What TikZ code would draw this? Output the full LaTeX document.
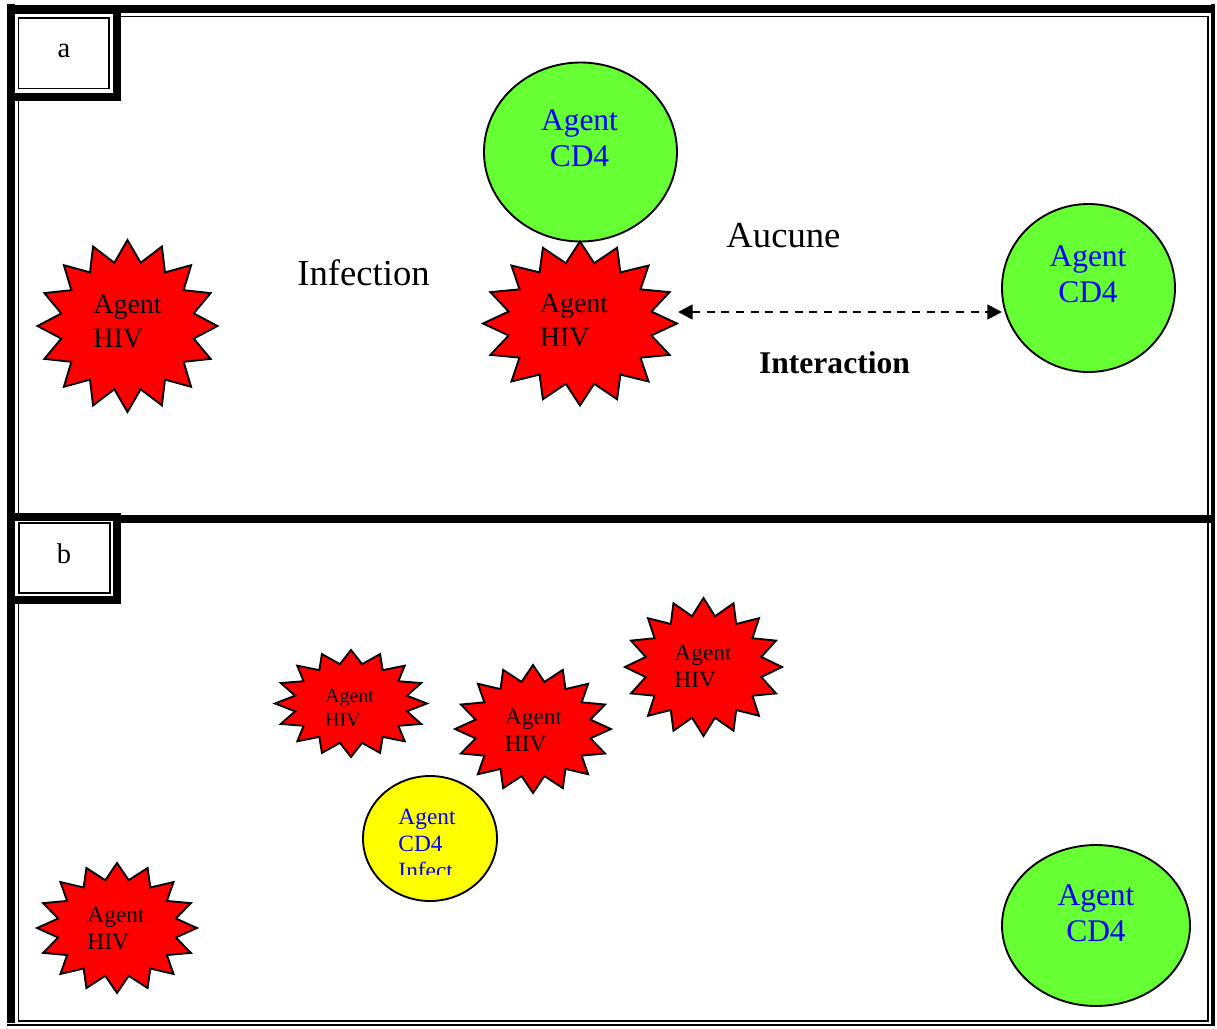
\documentclass[tikz,border=0pt]{standalone}
\usepackage{fontspec}
\setmainfont{Liberation Serif}
\usetikzlibrary{shapes.geometric,arrows.meta}
\definecolor{cdgreen}{HTML}{66FF33}
\definecolor{cdyellow}{HTML}{FFFF00}
\definecolor{hivred}{HTML}{FF0000}
\definecolor{cdblue}{HTML}{0000FF}
\newcommand\fsz[2]{\fontsize{#1}{#2}\selectfont}
% 16-point burst: centre (#1,#2), radii #3 and #4
\newcommand\hivburst[4]{%
  \draw[burst] plot[samples at={0,...,31}, variable=\k]
    ({#1+#3*(1-0.25*mod(\k,2))*cos(90+11.25*\k)},
     {#2+#4*(1-0.25*mod(\k,2))*sin(90+11.25*\k)}) -- cycle;}
\tikzset{
  frameheavy/.style={line width=6pt},
  framelight/.style={line width=1.1pt},
  tagbox/.style={draw, fill=white, line width=6pt, rectangle, inner sep=0, outer sep=0},
  burst/.style={fill=hivred, draw=black, line width=1.4pt, line join=miter},
  cell/.style={ellipse, draw=black, line width=1.4pt, inner sep=0, outer sep=0},
  cd4txt/.style={text=cdblue, align=center, inner sep=0},
  hivtxt/.style={text=black, align=left, inner sep=0},
  plain/.style={inner sep=0, anchor=base},
  interarrow/.style={{Triangle[length=11pt,width=11pt]}-{Triangle[length=11pt,width=11pt]},
                     line width=2pt, dash pattern=on 6pt off 5pt}
}
\begin{document}
\begin{tikzpicture}[x=0.75pt,y=-0.75pt]
\useasboundingbox (0,0) rectangle (1217,1028);
% outer frame of both panels
\draw[frameheavy] (7,8.5) -- (1215,8.5);
\draw[frameheavy] (7,518.5) -- (1215,518.5);
\draw[frameheavy] (11,4) -- (11,1023);
\draw[line width=3.4pt] (1213,4) -- (1213,1026);
\draw[framelight] (7,1025) -- (1215,1025);
\draw[framelight] (18.5,518) -- (18.5,16.5) -- (1208,16.5) -- (1208,518);
\draw[framelight] (18.5,522) -- (18.5,1021) -- (1208,1021) -- (1208,522);

% panel tags
\node[tagbox, minimum width=79.5pt, minimum height=65.25pt] (tagA) at (64,53) {};
\draw[framelight] ([shift={(7.5,8.5)}]tagA.north west) rectangle ([shift={(-8,-8)}]tagA.south east);
\node[plain, font=\fsz{21.4pt}{25pt}] (tagAtxt) at (64,57) {a};
\node[tagbox, minimum width=79.5pt, minimum height=61.9pt] (tagB) at (64,558.75) {};
\draw[framelight] ([shift={(8,5.5)}]tagB.north west) rectangle ([shift={(-7,-7)}]tagB.south east);
\node[plain, font=\fsz{21.4pt}{25pt}] (tagBtxt) at (64,563) {b};

% panel a
\node[cell, fill=cdgreen, minimum width=144.75pt, minimum height=134.25pt] (cdTop) at (580.5,152) {};
\node[cd4txt, font=\fsz{23.6pt}{27pt}] (cdTopTxt) at (579.5,138.5) {Agent\\CD4};
\hivburst{127.5}{326}{90}{86}
\node[hivtxt, font=\fsz{21pt}{25.5pt}] (hivLeft) at (127.5,321.8) {Agent\\HIV};
\hivburst{580}{323.5}{97}{82}
\node[hivtxt, font=\fsz{21pt}{25.5pt}] (hivMid) at (574,320.7) {Agent\\HIV};
\node[cell, fill=cdgreen, minimum width=129.75pt, minimum height=126pt] (cdRight) at (1088.5,288) {};
\node[cd4txt, font=\fsz{23.6pt}{27pt}] (cdRightTxt) at (1088,274.5) {Agent\\CD4};
\node[plain, font=\fsz{27.5pt}{32pt}] (infection) at (363.5,285) {Infection};
\node[plain, font=\fsz{27.5pt}{32pt}] (aucune) at (783.5,247) {Aucune};
\node[plain, font=\bfseries\fsz{23.7pt}{28pt}] (interaction) at (834.5,373) {Interaction};
\coordinate (tipL) at (678,312);
\coordinate (tipR) at (1002,312);
\draw[interarrow] (tipL) -- (tipR);

% panel b
\hivburst{351}{703.5}{76}{53.5}
\node[hivtxt, font=\fsz{15pt}{18.2pt}] (hivB1) at (349.5,708) {Agent\\HIV};
\hivburst{533}{729}{78}{64}
\node[hivtxt, font=\fsz{17.5pt}{20.3pt}] (hivB2) at (533.5,730) {Agent\\HIV};
\hivburst{703.5}{667}{78.5}{69}
\node[hivtxt, font=\fsz{17.5pt}{20.3pt}] (hivB3) at (703,666) {Agent\\HIV};
\hivburst{117}{928}{80}{65}
\node[hivtxt, font=\fsz{17.5pt}{20.3pt}] (hivB4) at (116,928.5) {Agent\\HIV};
\node[cell, fill=cdyellow, minimum width=100.5pt, minimum height=93.75pt] (cdInf) at (430,838.5) {};
\begin{scope}
  \clip (350,770) rectangle (510,874);
  \node[hivtxt, text=cdblue, font=\fsz{17.5pt}{20.3pt}] (cdInfTxt) at (427,844.3) {Agent\\CD4\\Infect};
\end{scope}
\node[cell, fill=cdgreen, minimum width=141pt, minimum height=120.75pt] (cdLow) at (1096,925.5) {};
\node[cd4txt, font=\fsz{23.6pt}{27pt}] (cdLowTxt) at (1096,913.5) {Agent\\CD4};
\end{tikzpicture}
\end{document}
